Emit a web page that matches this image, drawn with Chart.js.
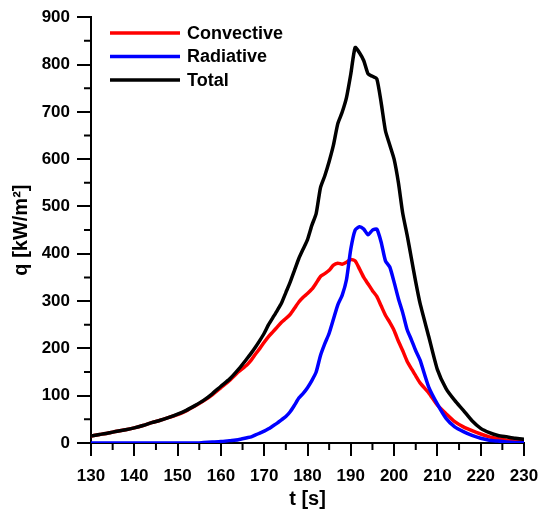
<!DOCTYPE html>
<html>
<head>
<meta charset="utf-8">
<script src="https://cdn.jsdelivr.net/npm/chart.js@4/dist/chart.umd.min.js"></script>
<style>
  html, body { margin: 0; padding: 0; background: #fff; }
  #wrap { width: 554px; height: 513px; }
</style>
</head>
<body>
<div id="wrap"><canvas id="heatFlux"></canvas></div>
<script>
// time [s]
const times = [130, 132, 134, 136, 138, 140, 142, 144, 146, 148, 150, 152, 154, 156, 158, 160, 162, 164,
    166, 167, 168, 169, 170, 171, 172, 173, 174, 175, 176, 177, 178, 179, 180, 181, 182, 183, 184, 185,
    186, 187, 188, 189, 190, 191, 192, 193, 194, 195, 196, 197, 198, 199, 200, 201, 202, 203, 204, 205,
    206, 208, 210, 212, 214, 216, 218, 220, 222, 224, 226, 228, 230];

// q [kW/m2]
const convective = [15, 18, 21, 25, 28, 32, 37, 43, 48, 54, 60, 68, 78, 89, 102, 117, 132, 150,
    165, 175, 188, 200, 213, 225, 235, 245, 255, 263, 272, 285, 298, 308, 316, 325, 338, 352, 358, 365,
    376, 380, 378, 382, 388, 385, 368, 350, 336, 322, 310, 290, 270, 255, 238, 215, 195, 173, 157, 142,
    127, 106, 80, 62, 45, 34, 26, 19, 13, 9, 6, 4, 3];

const radiative = [0, 0, 0, 0, 0, 0, 0, 0, 0, 0, 0, 0, 0, 1, 2, 3, 5, 7,
    11, 13, 17, 21, 25, 30, 36, 42, 49, 56, 66, 80, 95, 105, 117, 132, 150, 185, 210, 232,
    262, 292, 312, 345, 410, 450, 457, 452, 440, 450, 452, 425, 385, 372, 340, 305, 275, 240, 218, 195,
    175, 118, 82, 52, 34, 24, 16, 10, 6, 4, 2, 1, 1];

const total = [15, 18, 21, 25, 28, 32, 37, 43, 48, 54, 61, 69, 79, 90, 104, 120, 135, 155,
    178, 190, 203, 217, 232, 250, 265, 280, 296, 318, 340, 365, 390, 410, 430, 460, 485, 540, 565, 595,
    630, 675, 699, 730, 780, 836, 825, 808, 780, 775, 770, 720, 660, 630, 600, 550, 485, 440, 390, 340,
    295, 225, 155, 115, 90, 69, 47, 31, 22, 16, 13, 10, 8];

const xTicks = [130, 140, 150, 160, 170, 180, 190, 200, 210, 220, 230];
const yTicks = [0, 100, 200, 300, 400, 500, 600, 700, 800, 900];

const FONT = 'Liberation Sans, Arial, sans-serif';

function toPoints(values) {
    return values.map((v, i) => ({ x: times[i], y: v }));
}

// minor ticks halfway between the major ones + legend in the upper left
const extrasPlugin = {
    id: 'extras',
    afterDraw(chart) {
        const ctx = chart.ctx;
        const xs = chart.scales.x;
        const ys = chart.scales.y;
        ctx.save();
        ctx.strokeStyle = '#000';
        ctx.lineWidth = 2;
        ctx.beginPath();
        for (let i = 0; i < xTicks.length - 1; i++) {
            const px = xs.getPixelForValue((xTicks[i] + xTicks[i + 1]) / 2);
            ctx.moveTo(px, ys.bottom);
            ctx.lineTo(px, ys.bottom + 7);
        }
        for (let i = 0; i < yTicks.length - 1; i++) {
            const py = ys.getPixelForValue((yTicks[i] + yTicks[i + 1]) / 2);
            ctx.moveTo(xs.left, py);
            ctx.lineTo(xs.left - 7, py);
        }
        ctx.stroke();

        // legend
        const items = [
            { label: 'Convective', color: '#ff0000' },
            { label: 'Radiative', color: '#0000ff' },
            { label: 'Total', color: '#000000' }
        ];
        ctx.font = 'bold 18px ' + FONT;
        ctx.textBaseline = 'middle';
        items.forEach((item, i) => {
            const y = 33 + i * 23.5;
            ctx.strokeStyle = item.color;
            ctx.lineWidth = 3.5;
            ctx.beginPath();
            ctx.moveTo(110, y);
            ctx.lineTo(180, y);
            ctx.stroke();
            ctx.fillStyle = '#000';
            ctx.fillText(item.label, 187, y + 1);
        });
        ctx.restore();
    }
};

const ctx = document.getElementById('heatFlux');
new Chart(ctx, {
    type: 'line',
    data: {
        datasets: [{
            label: 'Convective',
            data: toPoints(convective),
            borderColor: '#ff0000',
            order: 2
        }, {
            label: 'Radiative',
            data: toPoints(radiative),
            borderColor: '#0000ff',
            order: 1
        }, {
            label: 'Total',
            data: toPoints(total),
            borderColor: '#000000',
            order: 0
        }]
    },
    options: {
        responsive: true,
        maintainAspectRatio: false,
        animation: false,
        layout: {
            padding: { top: 10, right: 30, bottom: 0, left: 0 }
        },
        elements: {
            point: { radius: 0 },
            line: { borderWidth: 3.5, tension: 0.2, fill: false }
        },
        plugins: {
            legend: { display: false },
            tooltip: { enabled: false }
        },
        scales: {
            x: {
                type: 'linear',
                min: 130,
                max: 230,
                afterFit: scale => { scale.height = 70; },
                afterBuildTicks: scale => { scale.ticks = xTicks.map(v => ({ value: v })); },
                border: { color: '#000', width: 2 },
                grid: { drawOnChartArea: false, color: '#000', lineWidth: 2, tickLength: 13 },
                ticks: {
                    color: '#000',
                    padding: 10,
                    maxRotation: 0,
                    font: { family: FONT, size: 17, weight: 'bold' }
                },
                title: {
                    display: true,
                    text: 't [s]',
                    color: '#000',
                    padding: { top: 0, bottom: 2 },
                    font: { family: FONT, size: 20, weight: 'bold' }
                }
            },
            y: {
                min: 0,
                max: 900,
                afterFit: scale => { scale.width = 91; },
                afterBuildTicks: scale => { scale.ticks = yTicks.map(v => ({ value: v })); },
                border: { color: '#000', width: 2 },
                grid: { drawOnChartArea: false, color: '#000', lineWidth: 2, tickLength: 14 },
                ticks: {
                    color: '#000',
                    padding: 7,
                    font: { family: FONT, size: 17, weight: 'bold' }
                },
                title: {
                    display: true,
                    text: 'q [kW/m²]',
                    color: '#000',
                    padding: { top: 9, bottom: 0 },
                    font: { family: FONT, size: 20, weight: 'bold' }
                }
            }
        }
    },
    plugins: [extrasPlugin]
});
</script>
</body>
</html>
